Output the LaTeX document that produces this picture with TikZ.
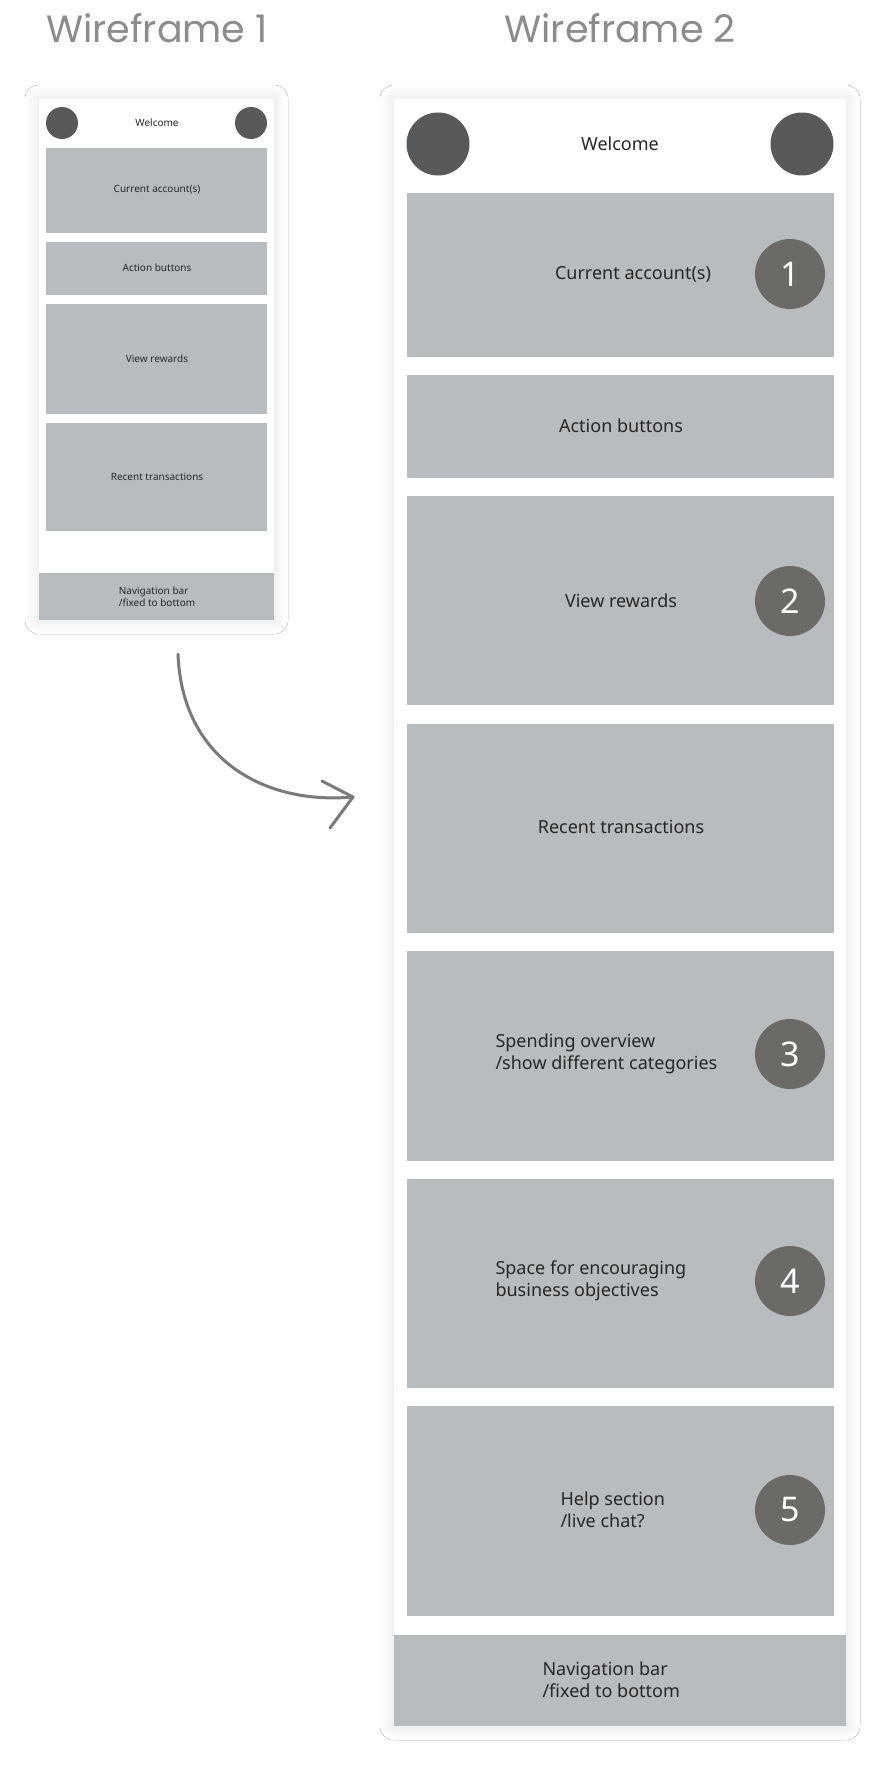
\documentclass[tikz,border=0pt]{standalone}
\usepackage{fontspec}
\setmainfont{Noto Sans}
\newfontfamily\titlefont{Poppins}
\usetikzlibrary{shadows.blur}
\definecolor{boxgray}{HTML}{B9BCBF}
\definecolor{dotgray}{HTML}{58595B}
\definecolor{numgray}{HTML}{6B6A66}
\definecolor{titlegray}{HTML}{8C8C8C}
\definecolor{arrgray}{HTML}{7A7A78}
\tikzset{
  frame/.style={fill=white,blur shadow={shadow blur steps=12,shadow xshift=0pt,shadow yshift=0pt,shadow blur radius=14pt,shadow opacity=12}},
  gbox/.style={fill=boxgray},
  lbl/.style={font=\fontsize{18}{22}\selectfont,text=black!85,align=left},
  slbl/.style={font=\fontsize{10}{12}\selectfont,text=black!85,align=left},
  numc/.style={circle,fill=numgray,minimum size=70pt,inner sep=0pt,text=white,font=\fontsize{34}{34}\selectfont\bfseries},
  avatar/.style={fill=dotgray},
  ttl/.style={font=\titlefont\fontsize{38}{40}\selectfont,text=titlegray}
}
\begin{document}
\begin{tikzpicture}[x=1pt,y=-1pt]
\useasboundingbox[fill=white] (0,0) rectangle (886,1766);
% titles
\node[ttl] (t1) at (157,28) {Wireframe 1};
\node[ttl] (t2) at (620,28) {Wireframe 2};
% ---------- Wireframe 1
\path[frame] (39,99) rectangle (274,620);
\fill[avatar] (62,123) circle (16);
\fill[avatar] (251,123) circle (16);
\node[slbl] (w1) at (157,123) {Welcome};
\fill[gbox] (46,148) rectangle (267,233);
\node[slbl] (a1) at (157,190) {Current account(s)};
\fill[gbox] (46,242) rectangle (267,295);
\node[slbl] (a2) at (157,268) {Action buttons};
\fill[gbox] (46,304) rectangle (267,414);
\node[slbl] (a3) at (157,359) {View rewards};
\fill[gbox] (46,423) rectangle (267,531);
\node[slbl] (a4) at (157,477) {Recent transactions};
\fill[gbox] (39,573) rectangle (274,620);
\node[slbl] (n1) at (157,597) {Navigation bar\\/fixed to bottom};
% ---------- Wireframe 2
\path[frame] (394,99) rectangle (846,1726);
\fill[avatar] (438,144) circle (31.5);
\fill[avatar] (802,144) circle (31.5);
\node[lbl] (w2) at (620,144) {Welcome};
\fill[gbox] (407,193) rectangle (834,357);
\node[lbl] (b1) at (633,274) {Current account(s)};
\node[numc] (c1) at (790,274) {1};
\fill[gbox] (407,375) rectangle (834,478);
\node[lbl] (b2) at (621,426) {Action buttons};
\fill[gbox] (407,496) rectangle (834,705);
\node[lbl] (b3) at (621,601) {View rewards};
\node[numc] (c2) at (790,601) {2};
\fill[gbox] (407,724) rectangle (834,933);
\node[lbl] (b4) at (621,827) {Recent transactions};
\fill[gbox] (407,951) rectangle (834,1161);
\node[lbl,anchor=west] (b5) at (492,1054) {Spending overview\\/show different categories};
\node[numc] (c3) at (790,1054) {3};
\fill[gbox] (407,1179) rectangle (834,1388);
\node[lbl,anchor=west] (b6) at (492,1281) {Space for encouraging\\business objectives};
\node[numc] (c4) at (790,1281) {4};
\fill[gbox] (407,1406) rectangle (834,1616);
\node[lbl,anchor=west] (b7) at (557,1510) {Help section\\/live chat?};
\node[numc] (c5) at (790,1510) {5};
\fill[gbox] (394,1635) rectangle (846,1726);
\node[lbl,anchor=west] (n2) at (539,1680) {Navigation bar\\/fixed to bottom};
% ---------- arrow
\coordinate (s) at (178,654);
\coordinate (e) at (353,797);
\draw[arrgray,line width=3pt,line cap=round,line join=round] (s) .. controls (182,760) and (265,805) .. (e);
\draw[arrgray,line width=3pt,line cap=round,line join=round] (322,781) -- (e) -- (330,828);
\end{tikzpicture}
\end{document}
